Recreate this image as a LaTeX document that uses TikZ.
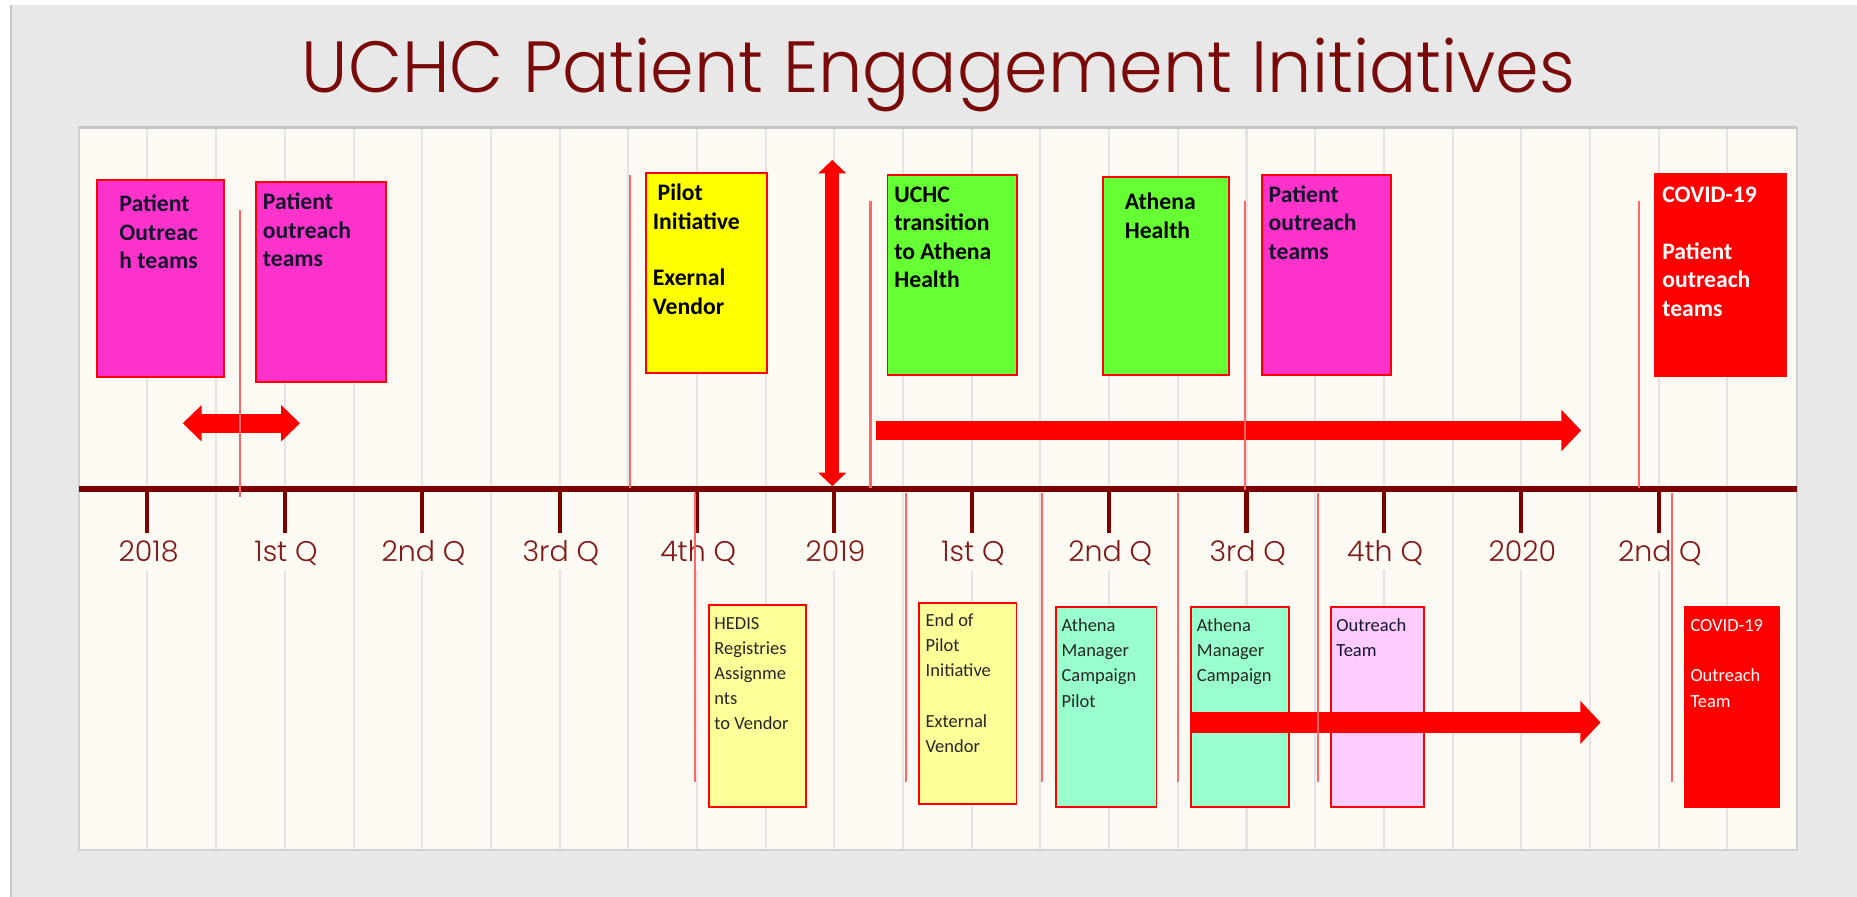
\documentclass[tikz,border=0pt]{standalone}
\usepackage{fontspec}
\setmainfont{Carlito}
\newfontfamily\titlefont{Poppins}[UprightFont=* Light]
\usetikzlibrary{arrows.meta,fit}

\definecolor{pagegray}{HTML}{E8E8E8}
\definecolor{edgegray}{HTML}{C6C6C6}
\definecolor{panelcream}{HTML}{FDFAF3}
\definecolor{gridgray}{HTML}{E4E4E4}
\definecolor{axismaroon}{HTML}{7C0000}
\definecolor{titlemaroon}{HTML}{7A0A0A}
\definecolor{labelred}{HTML}{7F1A1A}
\definecolor{markred}{HTML}{FF6666}
\definecolor{magentacard}{HTML}{FF33CC}
\definecolor{yellowcard}{HTML}{FFFF00}
\definecolor{greencard}{HTML}{66FF33}
\definecolor{redcard}{HTML}{FF0000}
\definecolor{paleyellow}{HTML}{FFFF99}
\definecolor{aquacard}{HTML}{99FFCC}
\definecolor{palepink}{HTML}{FFCCFF}
\definecolor{inkdark}{HTML}{14142E}
\definecolor{inkgray}{HTML}{262626}

% stacked lines whose baseline is the first line
\newcommand\linestack[1]{\begin{tabular}[t]{@{}l@{}}#1\end{tabular}}

\begin{document}
\begin{tikzpicture}[x=0.5pt,y=-0.5pt,
  every node/.style={inner sep=0pt,outer sep=0pt},
  panel/.style={fill=panelcream,draw=edgegray!80,line width=0.8pt},
  gridline/.style={draw=gridgray,line width=0.85pt},
  axisline/.style={draw=axismaroon,line width=2.8pt},
  tickline/.style={draw=axismaroon,line width=1.7pt},
  axislabel/.style={anchor=base,fill=panelcream,text height=12pt,text depth=3.5pt,
    inner xsep=1pt,text=labelred,font=\titlefont\fontsize{12}{14}\selectfont},
  marker/.style={draw=markred,line width=0.9pt},
  card/.style={draw=redcard,line width=0.8pt,inner sep=0pt},
  toptext/.style={anchor=base west,text=inkdark,font=\fontsize{10}{12}\selectfont\bfseries},
  lowtext/.style={anchor=base west,text=inkgray,font=\fontsize{7.8}{10.6}\selectfont},
  blockarrow/.style={draw=redcard,line cap=butt},
]
\useasboundingbox (0,0) rectangle (1568,757);

% page background
\fill[white] (0,0) rectangle (1568,757);
\fill[pagegray] (9,4) rectangle (1568,757);
\draw[edgegray,line width=0.8pt] (9,4) -- (9,757);

% title
\node[anchor=base,text=titlemaroon] (title) at (792.5,78)
  {\resizebox{537.5pt}{23pt}{\titlefont UCHC Patient Engagement Initiatives}};

% timeline panel
\node[panel,fit={(67,108) (1517,718)}] (panel) {};
\draw[edgegray,line width=1.3pt] (panel.north west) -- (panel.north east);

% vertical grid
\foreach \k in {0,...,23}
  \draw[gridline] ({124.5+58*\k},109) -- ({124.5+58*\k},717);

% axis
\coordinate (axL) at (67,413);
\coordinate (axR) at (1517,413);
\draw[axisline] (axL) -- (axR);

% ticks and period labels
\foreach \k/\t in {0/2018,1/1st Q,2/2nd Q,3/3rd Q,4/4th Q,5/2019,
                   6/1st Q,7/2nd Q,8/3rd Q,9/4th Q,10/2020,11/2nd Q} {
  \draw[tickline] ({124.5+116*\k},413) -- ({124.5+116*\k},450);
  \node[axislabel] (lab\k) at ({125.5+116*\k},474) {\t};
}

% event cards above the axis
\node[card,fill=magentacard,fit={(82,152) (189,318.5)}] (b1) {};
\node[card,fill=magentacard,fit={(216.5,153.4) (325.8,322.3)}] (b2) {};
\node[card,fill=yellowcard,fit={(545.6,145.8) (647.6,314.7)}] (b3) {};
\node[card,fill=greencard,fit={(749.4,147.8) (858.6,316.6)}] (b4) {};
\node[card,fill=greencard,fit={(931,149.7) (1038,316.6)}] (b5) {};
\node[card,fill=magentacard,fit={(1065.4,147.8) (1174.8,316.6)}] (b6) {};
\node[card,fill=redcard,fit={(1397.7,147.2) (1508.2,317.2)}] (b7) {};

% event cards below the axis
\node[card,fill=paleyellow,fit={(598.4,510.8) (680.8,681.2)}] (c1) {};
\node[card,fill=paleyellow,fit={(776.3,508.9) (858.3,679.2)}] (c2) {};
\node[card,fill=aquacard,fit={(891.6,512.3) (976.5,681.2)}] (c3) {};
\node[card,fill=aquacard,fit={(1005.8,512.3) (1088.4,681.2)}] (c4) {};
\node[card,fill=palepink,fit={(1123.5,512.3) (1202.7,681.2)}] (c5) {};
\node[card,fill=redcard,fit={(1422.5,512.3) (1502,681.7)}] (c6) {};

% block arrows
\coordinate (dL) at (154.3,357.4);
\coordinate (dR) at (253.3,357.4);
\draw[blockarrow,line width=7.9pt,
  {Triangle[length=8pt,width=15pt]}-{Triangle[length=8pt,width=15pt]}] (dL) -- (dR);

\coordinate (vT) at (702.7,135);
\coordinate (vB) at (702.7,410.5);
\draw[blockarrow,line width=6pt,
  {Triangle[length=5.7pt,width=11.5pt]}-{Triangle[length=5.7pt,width=11.5pt]}] (vT) -- (vB);

\coordinate (hS) at (740,363.5);
\coordinate (hE) at (1335,363.5);
\draw[blockarrow,line width=7.75pt,-{Triangle[length=8.3pt,width=17pt]}] (hS) -- (hE);

\coordinate (lS) at (1006,610);
\coordinate (lE) at (1351.5,610);
\draw[blockarrow,line width=8.5pt,-{Triangle[length=8.5pt,width=17.5pt]}] (lS) -- (lE);

% thin date markers
\foreach \x/\a/\b in {203/177/420,532/148/412,735/170/412,1051/170/414,1384/170/412,
                      587/416/660,765/416/660,880/416/660,995/416/660,1113/416/660,1412/416/660}
  \draw[marker] (\x,\a) -- (\x,\b);

% card texts above the axis
\node[toptext] (t1) at (100.8,178.7) {\linestack{Patient\\Outreac\\h teams}};
\node[toptext] (t2) at (222,177) {\linestack{Patient\\outreach\\teams}};
\node[toptext,text=black] (t3) at (551.3,169.4) {\linestack{\hspace{2pt}Pilot\\Initiative\\ \\Exernal\\Vendor}};
\node[toptext,text=black] (t4) at (755.2,171) {\linestack{UCHC\\transition\\to Athena\\Health}};
\node[toptext,text=black] (t5) at (949.8,177.3) {\linestack{Athena\\Health}};
\node[toptext] (t6) at (1071.2,171) {\linestack{Patient\\outreach\\teams}};
\node[toptext,text=white] (t7) at (1403.6,171) {\linestack{COVID-19\\ \\Patient\\outreach\\teams}};

% card texts below the axis
\node[lowtext] (u1) at (603.2,531.4) {\linestack{HEDIS\\Registries\\Assignme\\nts\\to Vendor}};
\node[lowtext] (u2) at (781.6,529.2) {\linestack{End of\\Pilot\\Initiative\\ \\External\\Vendor}};
\node[lowtext] (u3) at (896.4,533.4) {\linestack{Athena\\Manager\\Campaign\\Pilot}};
\node[lowtext] (u4) at (1010.7,533.4) {\linestack{Athena\\Manager\\Campaign}};
\node[lowtext,text=inkdark] (u5) at (1128.4,533.4) {\linestack{Outreach\\Team}};
\node[lowtext,text=white] (u6) at (1427.4,533.4) {\linestack{COVID-19\\ \\Outreach\\Team}};
\end{tikzpicture}
\end{document}
